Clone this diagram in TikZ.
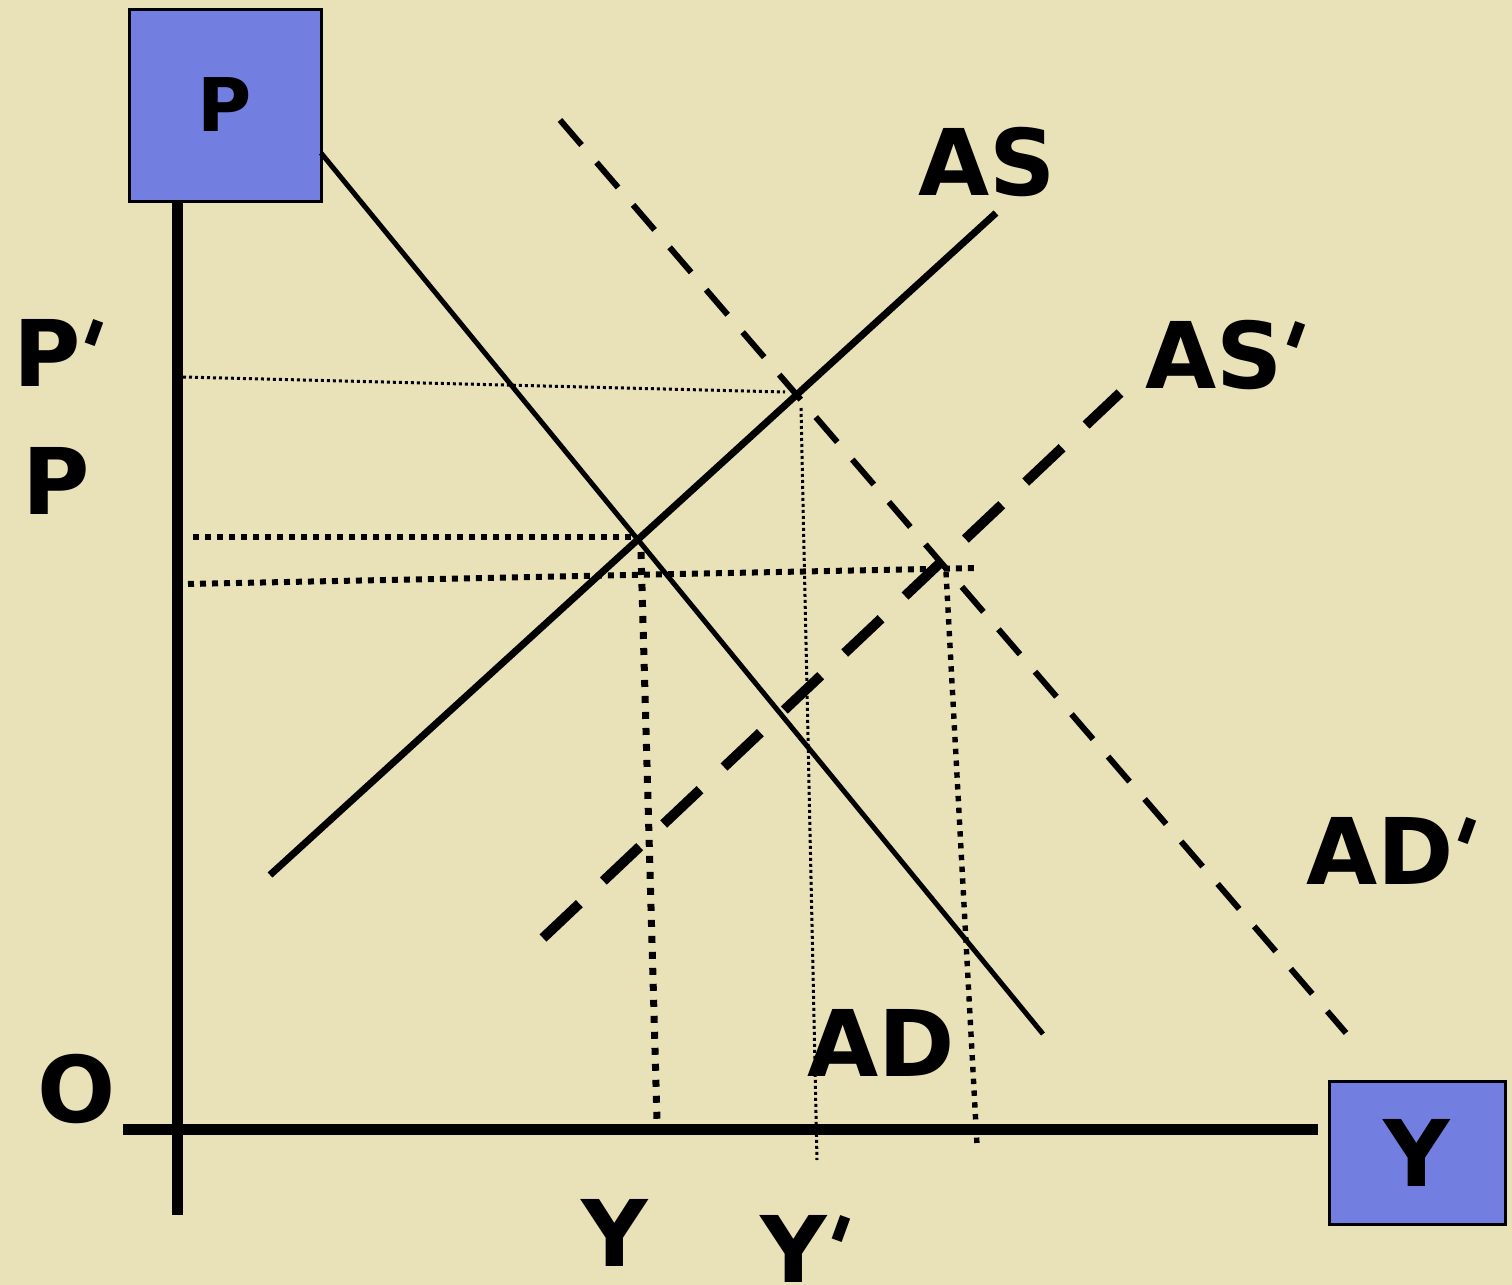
\documentclass[tikz,border=0pt]{standalone}
\usepackage{fontspec}
\setmainfont{DejaVu Sans}
\newfontfamily\primefont[Ligatures=TeXOff]{DejaVu Sans}
\definecolor{bgc}{RGB}{233,226,184}
\definecolor{boxc}{RGB}{115,127,224}
\newcommand{\prm}{\kern-0.2em\rotatebox[origin=c]{-20}{\primefont\bfseries\char"0027}\kern-0.08em}
\begin{document}
\begin{tikzpicture}[x=0.5pt,y=-0.5pt,
  lbl/.style={font=\bfseries\fontsize{46}{50}\selectfont, inner sep=0pt, anchor=base},
  axisbox/.style={draw=black, line width=1.5pt, fill=boxc, inner sep=0pt},
  axisline/.style={line width=5.5pt},
  asline/.style={line width=3.5pt},
  adline/.style={line width=2.5pt},
  adpline/.style={line width=3pt, dash pattern=on 16.5pt off 11.5pt},
  aspline/.style={line width=5pt, dash pattern=on 25pt off 16.5pt},
  thindot/.style={line width=1.5pt, dash pattern=on 1.5pt off 1.5pt},
  thickdot/.style={line width=3pt, dash pattern=on 3pt off 3pt},
  vdot/.style={line width=3.5pt, dash pattern=on 3.5pt off 4.5pt},
  vdotb/.style={line width=2.7pt, dash pattern=on 2.7pt off 3.2pt}
]
\fill[bgc] (0,0) rectangle (1512,1285);
\useasboundingbox (0,0) rectangle (1512,1285);

% axes
\coordinate (vtop) at (177,200);
\coordinate (vbot) at (177,1215);
\coordinate (hl) at (123,1129);
\coordinate (hr) at (1318,1129);
\draw[axisline] (vtop) -- (vbot);
\draw[axisline] (hl) -- (hr);

% boxes
\node[axisbox, minimum width=96pt, minimum height=96pt,
      font=\bfseries\fontsize{37}{40}\selectfont] (Pbox) at (225,105) {P};
\node[axisbox, minimum width=88pt, minimum height=71.5pt,
      font=\bfseries\fontsize{46}{50}\selectfont] (Ybox) at (1417,1153) {Y};

% curve end points
\coordinate (AS1) at (270,875);
\coordinate (AS2) at (996,213);
\coordinate (AD1) at (321,153);
\coordinate (AD2) at (1043,1034);
\coordinate (ADp1) at (560,120);
\coordinate (ADp2) at (1346,1033);
\coordinate (ASp1) at (543,938);
\coordinate (ASp2) at (1120,393);

% dotted guide end points
\coordinate (d1a) at (183,377);
\coordinate (d1b) at (785,392);
\coordinate (d2a) at (801,408);
\coordinate (d2b) at (817,1160);
\coordinate (d3a) at (193,537);
\coordinate (d3b) at (632,537);
\coordinate (d4a) at (188,584);
\coordinate (d4b) at (975,568);
\coordinate (d5a) at (641,552);
\coordinate (d5b) at (657,1120);
\coordinate (d6a) at (946,572);
\coordinate (d6b) at (977,1145);

% dotted guides
\draw[thindot] (d1a) -- (d1b);
\draw[thindot] (d2a) -- (d2b);
\draw[thickdot] (d3a) -- (d3b);
\draw[thickdot] (d4a) -- (d4b);
\draw[vdot] (d5a) -- (d5b);
\draw[vdotb] (d6a) -- (d6b);

% curves
\draw[asline] (AS1) -- (AS2);
\draw[adline] (AD1) -- (AD2);
\draw[adpline] (ADp1) -- (ADp2);
\draw[aspline] (ASp1) -- (ASp2);

% labels
\node[lbl] (lAS) at (987,195) {AS};
\node[lbl] (lASp) at (1226,388) {AS\prm};
\node[lbl] (lADp) at (1392,884) {AD\prm};
\node[lbl] (lAD) at (881,1076) {AD};
\node[lbl] (lPp) at (59,386) {P\prm};
\node[lbl] (lP) at (56,514) {P};
\node[lbl] (lO) at (77,1122) {O};
\node[lbl] (lY) at (615,1266) {Y};
\node[lbl] (lYp) at (806,1282) {Y\prm};
\end{tikzpicture}
\end{document}
